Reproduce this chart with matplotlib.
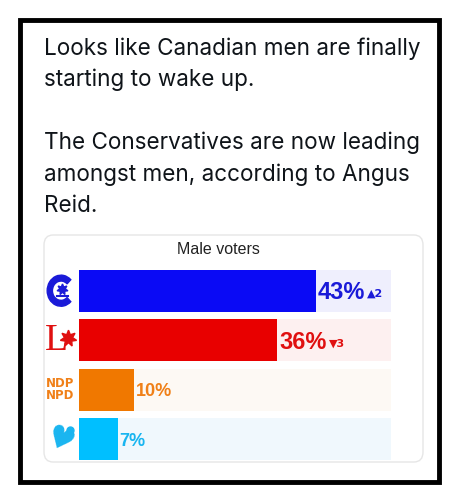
import matplotlib
matplotlib.use("Agg")
import matplotlib.pyplot as plt
from matplotlib.patches import Rectangle, FancyBboxPatch, Wedge

# Данные
parties = ["CPC", "LPC", "NDP", "BQ"]
values = [43, 36, 10, 7]
changes = ["▲2", "▼3", "", ""]
bar_colors = ["#0a0af5", "#e80000", "#f07800", "#00bfff"]
text_colors = ["#1a1ad8", "#e01010", "#f08018", "#19b5f0"]
track_colors = ["#efeffd", "#fdf0f0", "#fdf9f4", "#f0f8fd"]
tweet_lines = [
    "Looks like Canadian men are finally",
    "starting to wake up.",
    "",
    "The Conservatives are now leading",
    "amongst men, according to Angus",
    "Reid.",
]
chart_title = "Male voters"
track_max = 56.7

W, H = 455, 500
fig = plt.figure(figsize=(W / 100, H / 100), dpi=100)
fig.patch.set_facecolor("white")


def fx(px):
    return px / W


def fy(py):
    return 1 - py / H


# Внешняя рамка
fig.patches.append(Rectangle((fx(20), fy(482)), fx(419), 462 / H, transform=fig.transFigure,
                             fill=False, edgecolor="black", linewidth=3.5, zorder=5))

# Текст твита
for i, line in enumerate(tweet_lines):
    base = 55 + i * 31.4
    if line:
        fig.text(fx(44), fy(base), line, fontsize=16.2, family="Inter", color="#0f1419",
                 va="baseline", ha="left")

# Карточка графика
card = FancyBboxPatch((fx(44), fy(462)), fx(379), 227 / H, transform=fig.transFigure,
                      boxstyle="round,pad=0,rounding_size=0.02", facecolor="white",
                      edgecolor="#e6e6e6", linewidth=1.0, zorder=-5)
fig.patches.append(card)
fig.text(fx(218), fy(249), chart_title, fontsize=11.5, family="Liberation Sans",
         color="#222222", ha="center", va="center")

# Полосы
ax = fig.add_axes([fx(79), fy(460), fx(312), 190 / H])
ax.patch.set_alpha(0)
ypos = list(range(len(values)))
ax.barh(ypos, [track_max] * len(values), height=0.84, color=track_colors, linewidth=0)
ax.barh(ypos, values, height=0.84, color=bar_colors, linewidth=0)
ax.set_xlim(0, track_max)
ax.set_ylim(3.42, -0.42)
ax.axis("off")

for i, (v, ch) in enumerate(zip(values, changes)):
    big = i < 2
    t = ax.text(v + 0.4, i + 0.04, f"{v}%", fontsize=17 if big else 13, fontweight="bold",
                family="Liberation Sans", color=text_colors[i], va="center", ha="left")
    if ch:
        ax.annotate(ch, xy=(1, 0.45), xycoords=t, xytext=(1.5, 0), textcoords="offset points",
                    fontsize=8, fontweight="bold", family="DejaVu Sans",
                    color=text_colors[i], va="center", ha="left")

# Логотипы партий
for i, p in enumerate(parties):
    cy = 270 + 20.7 + i * 49.5
    lax = fig.add_axes([fx(45), fy(cy + 18), fx(32), 36 / H])
    lax.set_xlim(-1.1, 1.1)
    lax.set_ylim(-1.1, 1.1)
    lax.axis("off")
    if p == "CPC":
        lax.add_patch(Wedge((0.0, 0), 0.95, 45, 315, width=0.36, color="#1a1ad8"))
        lax.plot([0.05], [0.1], marker=(7, 1, 0), markersize=8, color="#1a1ad8")
        lax.plot([-0.3, 0.45], [-0.3, -0.3], color="#1a1ad8", lw=1.5)
    elif p == "LPC":
        lax.text(-0.3, -0.05, "L", fontsize=27, family="Liberation Serif", color="#e01010",
                 ha="center", va="center")
        lax.plot([0.5], [0.15], marker=(7, 1, 0), markersize=12, color="#e01010")
    elif p == "NDP":
        lax.text(-0.05, 0, "NDP\nNPD", fontsize=8.5, fontweight="heavy", family="DejaVu Sans",
                 color="#f08018", ha="center", va="center", linespacing=0.95)
    else:
        lax.text(-0.15, -0.1, "♥", fontsize=22, color="#19b5f0", rotation=-25,
                 ha="center", va="center", family="DejaVu Sans")
        lax.plot([0.65], [0.55], marker="o", markersize=5, color="#19b5f0")

fig.savefig("out.png", dpi=100)
